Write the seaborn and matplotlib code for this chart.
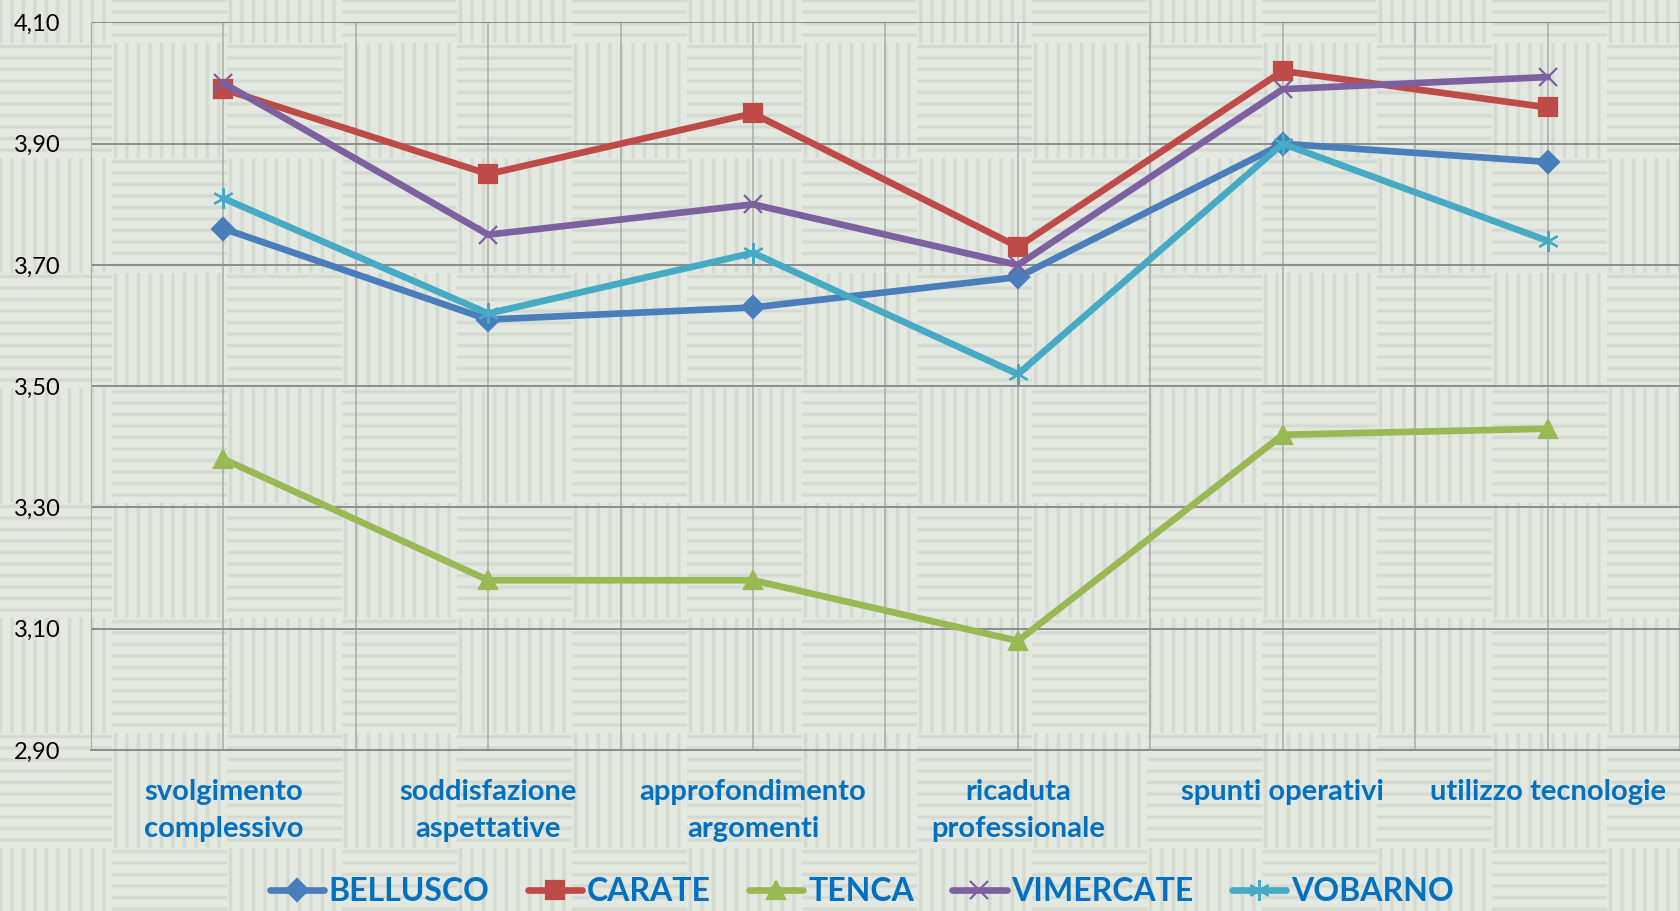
import numpy as np
import pandas as pd
import matplotlib
matplotlib.use("Agg")
import matplotlib.pyplot as plt
import seaborn as sns

# ---- data ----
categories = ["svolgimento\ncomplessivo", "soddisfazione\naspettative", "approfondimento\nargomenti",
              "ricaduta\nprofessionale", "spunti operativi", "utilizzo tecnologie"]
bellusco = [3.76, 3.61, 3.63, 3.68, 3.90, 3.87]
carate = [3.99, 3.85, 3.95, 3.73, 4.02, 3.96]
tenca = [3.38, 3.18, 3.18, 3.08, 3.42, 3.43]
vimercate = [4.00, 3.75, 3.80, 3.70, 3.99, 4.01]
vobarno = [3.81, 3.62, 3.72, 3.52, 3.90, 3.74]
series_names = ["BELLUSCO", "CARATE", "TENCA", "VIMERCATE", "VOBARNO"]
y_ticks = [2.90, 3.10, 3.30, 3.50, 3.70, 3.90, 4.10]

series = dict(zip(series_names, [bellusco, carate, tenca, vimercate, vobarno]))
rows = []
for name, vals in series.items():
    for i, v in enumerate(vals):
        rows.append({"pos": i, "value": v, "sede": name})
df = pd.DataFrame(rows)

palette = {"BELLUSCO": "#4A7EBB", "CARATE": "#BE4B48", "TENCA": "#98B954",
           "VIMERCATE": "#7D60A0", "VOBARNO": "#46AAC5"}
markers = {"BELLUSCO": "D", "CARATE": "s", "TENCA": "^",
           "VIMERCATE": "x", "VOBARNO": (6, 2, 0)}
sizes = {"BELLUSCO": 11, "CARATE": 13, "TENCA": 13, "VIMERCATE": 13, "VOBARNO": 15}

sns.set_style("white")
plt.rcParams["font.family"] = ["Lato", "DejaVu Sans"]
bg = "#E1E5DE"
text_blue = "#0070C0"

W, H = 1680, 911
fig = plt.figure(figsize=(W / 100, H / 100), dpi=100, facecolor=bg)

# basket-weave background texture (decorative)
T, period = 115, 11.5
rr, cc = np.mgrid[0:H, 0:W]
horiz = (((cc + 3) // T + (rr - 43) // T) % 2) == 0
wave = np.where(horiz, np.cos(2 * np.pi * rr / period), np.cos(2 * np.pi * cc / period))
shade = np.clip(wave, 0, 1) ** 1.5
base = np.array([0.893, 0.913, 0.884])
dark = np.array([0.800, 0.828, 0.790])
tex = base[None, None, :] * (1 - shade[..., None] * 0.7) + dark[None, None, :] * (shade[..., None] * 0.7)
fig.figimage(tex, xo=0, yo=0, origin="upper", zorder=-10)

ax = fig.add_axes([91 / W, 1 - 750 / H, 1 - 91 / W, (750 - 22.5) / H])
ax.set_zorder(5)
ax.patch.set_alpha(0)

for name in series_names:
    sub = df[df["sede"] == name]
    sns.lineplot(data=sub, x="pos", y="value", ax=ax, color=palette[name],
                 linewidth=4.8, marker=markers[name], markersize=sizes[name],
                 markeredgewidth=1.6, markeredgecolor=palette[name],
                 label=name, solid_joinstyle="round")

ax.set_ylim(2.90, 4.10)
ax.set_xlim(-0.5, 5.47)
ax.set_yticks(y_ticks)
ax.set_yticklabels([f"{t:.2f}".replace(".", ",") for t in y_ticks], fontsize=17, color="black")
ax.set_xticks(range(len(categories)))
ax.set_xticklabels(categories, fontsize=21, fontweight="bold", color=text_blue, linespacing=1.5)
ax.set_xticks(np.arange(-0.5, len(categories), 1.0), minor=True)
ax.tick_params(axis="y", length=0, pad=22)
ax.tick_params(axis="x", which="both", length=0, pad=21)
ax.set_xlabel("")
ax.set_ylabel("")

ax.grid(axis="y", color="#8C8C8C", linewidth=1.4)
ax.grid(axis="x", which="both", color="#ABABAB", linewidth=1.1)
ax.set_axisbelow(True)
for s in ["top", "right"]:
    ax.spines[s].set_visible(False)
ax.spines["left"].set_color("#ABABAB")
ax.spines["bottom"].set_color("#8C8C8C")
ax.spines["bottom"].set_linewidth(1.4)

handles, labels = ax.get_legend_handles_labels()
ax.legend(handles, labels, loc="center", bbox_to_anchor=(0.485, -0.195), ncol=5,
          frameon=False, handlelength=1.7, handletextpad=0.15, columnspacing=1.2,
          prop={"size": 23, "weight": "bold"}, labelcolor=text_blue)

fig.savefig("out.png", dpi=100, facecolor=bg)
